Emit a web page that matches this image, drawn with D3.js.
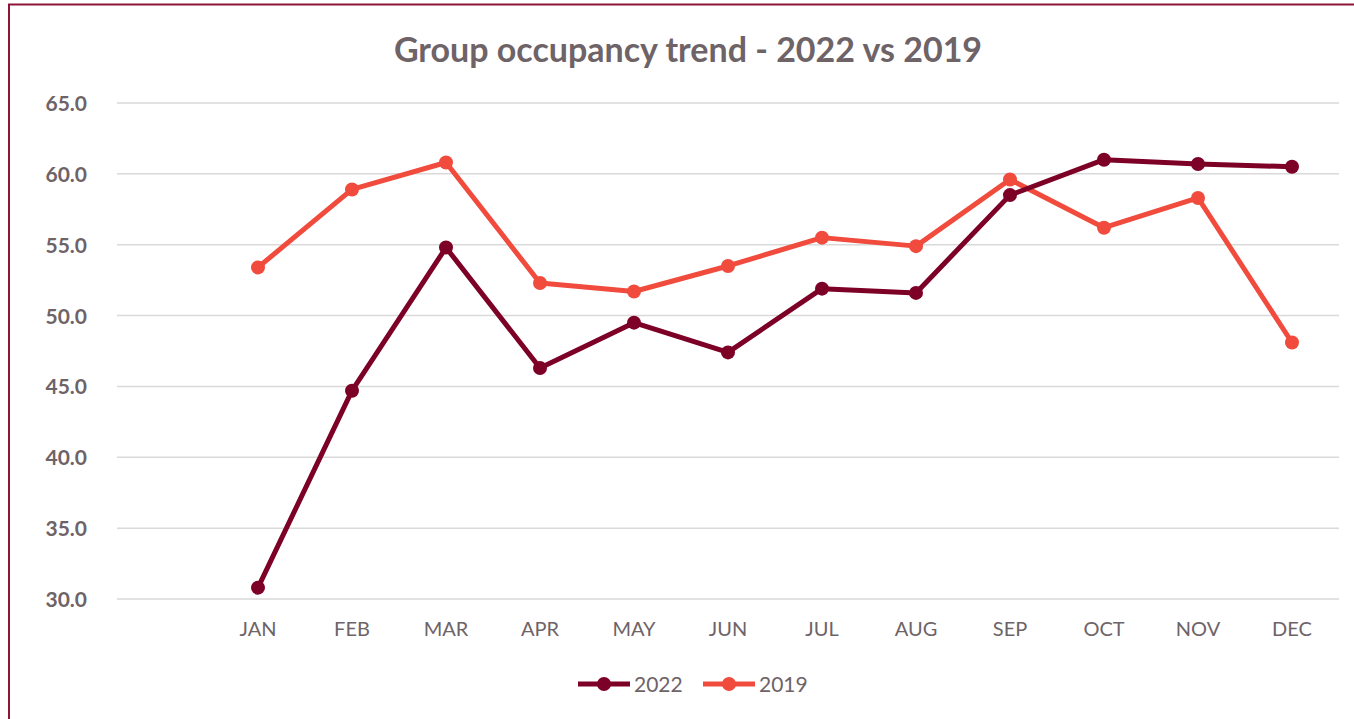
<!DOCTYPE html>
<html>
<head>
<meta charset="utf-8">
<script src="https://cdn.jsdelivr.net/npm/d3@7"></script>
<style>
  html, body { margin: 0; padding: 0; background: #fff; overflow: hidden; }
  svg { display: block; }
</style>
</head>
<body>
<div id="chart"></div>
<script>
// Dados
const months = ["JAN", "FEB", "MAR", "APR", "MAY", "JUN", "JUL", "AUG", "SEP", "OCT", "NOV", "DEC"];
const values2022 = [30.8, 44.7, 54.8, 46.3, 49.5, 47.4, 51.9, 51.6, 58.5, 61.0, 60.7, 60.5];
const values2019 = [53.4, 58.9, 60.8, 52.3, 51.7, 53.5, 55.5, 54.9, 59.6, 56.2, 58.3, 48.1];
const yTicks = [30, 35, 40, 45, 50, 55, 60, 65];
const seriesNames = ["2022", "2019"];

const W = 1354, H = 719;
const plot = { left: 117, right: 1339, top: 103, bottom: 599 };

const svg = d3.select("#chart")
  .append("svg")
  .attr("width", W)
  .attr("height", H);

// borda do gráfico (cortada à direita e embaixo)
svg.append("rect")
  .attr("x", 9).attr("y", 4.5)
  .attr("width", W + 20).attr("height", H + 20)
  .attr("fill", "#fff")
  .attr("stroke", "#8c1538")
  .attr("stroke-width", 2);

// Escalas - primeira categoria vazia, como no original
const xScale = d3.scaleBand()
  .domain([""].concat(months))
  .range([plot.left, plot.right]);
const xc = d => xScale(d) + xScale.bandwidth() / 2;

const yScale = d3.scaleLinear()
  .domain([30, 65])
  .range([plot.bottom, plot.top]);

const colorScale = d3.scaleOrdinal()
  .domain(seriesNames)
  .range(["#7d0027", "#f04b3d"]);

// Grade
svg.append("g")
  .selectAll("line")
  .data(yTicks)
  .enter()
  .append("line")
  .attr("x1", plot.left).attr("x2", plot.right)
  .attr("y1", d => yScale(d)).attr("y2", d => yScale(d))
  .attr("stroke", "#d9d9d9")
  .attr("stroke-width", 1.5);

// Eixo Y
const yAxis = d3.axisLeft(yScale).tickValues(yTicks).tickFormat(d3.format(".1f")).tickSize(0).tickPadding(0);
const gy = svg.append("g")
  .attr("transform", "translate(87,0)")
  .call(yAxis);
gy.select(".domain").remove();
gy.selectAll("text")
  .attr("fill", "#6e6367")
  .style("font-family", "Lato, sans-serif")
  .style("font-size", "21px")
  .style("font-weight", "bold")
  .attr("dy", "0.36em");

// Eixo X
const xAxis = d3.axisBottom(xScale).tickValues(months).tickSize(0).tickPadding(0);
const gx = svg.append("g")
  .attr("transform", "translate(0,622)")
  .call(xAxis);
gx.select(".domain").remove();
gx.selectAll("text")
  .attr("fill", "#6e6367")
  .style("font-family", "Lato, sans-serif")
  .style("font-size", "20px")
  .attr("dy", "0.71em");

// Linhas
const series = [
  { name: "2022", values: values2022 },
  { name: "2019", values: values2019 }
];

const lineGenerator = d3.line()
  .x((d, i) => xc(months[i]))
  .y(d => yScale(d));

series.slice().reverse().forEach(s => {
  svg.append("path")
    .attr("fill", "none")
    .attr("stroke", colorScale(s.name))
    .attr("stroke-width", 5)
    .attr("stroke-linejoin", "round")
    .attr("d", lineGenerator(s.values));
  svg.append("g")
    .selectAll("circle")
    .data(s.values)
    .enter()
    .append("circle")
    .attr("cx", (d, i) => xc(months[i]))
    .attr("cy", d => yScale(d))
    .attr("r", 7)
    .attr("fill", colorScale(s.name));
});

// Título
svg.append("text")
  .attr("x", 688)
  .attr("y", 62)
  .attr("text-anchor", "middle")
  .attr("fill", "#6e6367")
  .style("font-family", "Lato, sans-serif")
  .style("font-weight", "bold")
  .style("font-size", "34px")
  .text("Group occupancy trend - 2022 vs 2019");

// Legenda
const legendX = [578, 703];
const legend = svg.selectAll(".legend")
  .data(seriesNames)
  .enter()
  .append("g")
  .attr("class", "legend")
  .attr("transform", (d, i) => `translate(${legendX[i]},684)`);

legend.append("line")
  .attr("x1", 0).attr("x2", 52)
  .attr("stroke", d => colorScale(d))
  .attr("stroke-width", 5);
legend.append("circle")
  .attr("cx", 26).attr("r", 7)
  .attr("fill", d => colorScale(d));
legend.append("text")
  .attr("x", 56)
  .attr("dy", "0.36em")
  .attr("fill", "#6e6367")
  .style("font-family", "Lato, sans-serif")
  .style("font-size", "21px")
  .text(d => d);
</script>
</body>
</html>
